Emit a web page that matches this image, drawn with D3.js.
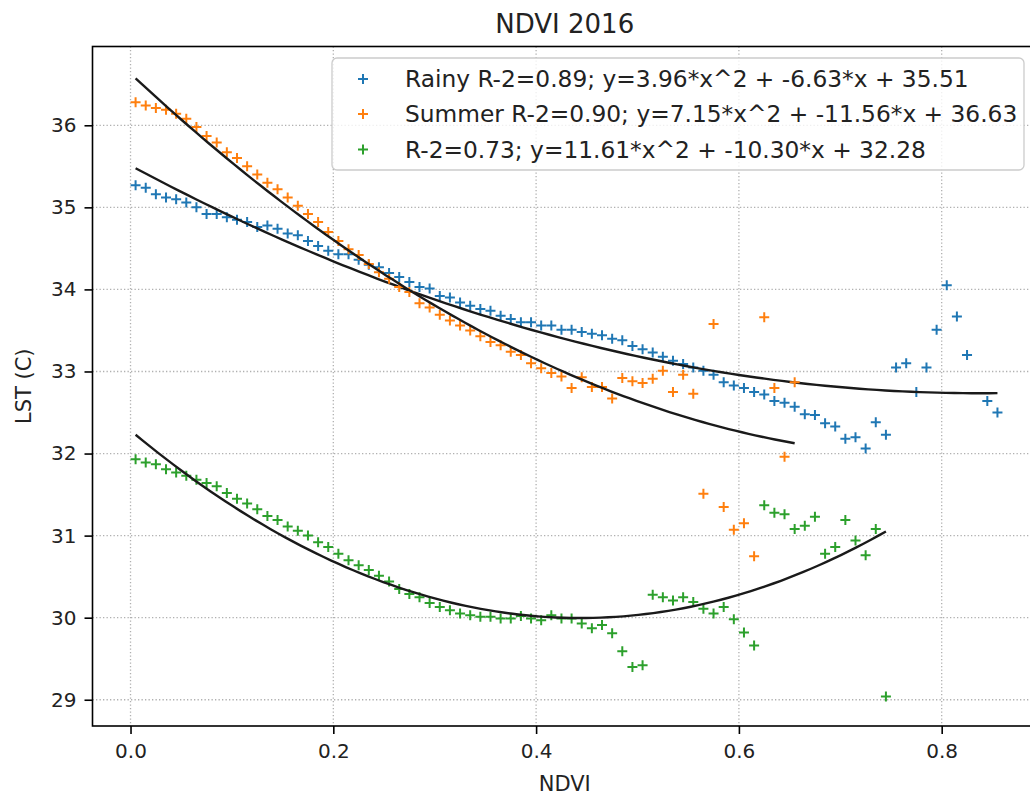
<!DOCTYPE html>
<html>
<head>
<meta charset="utf-8">
<script src="https://cdn.jsdelivr.net/npm/d3@7"></script>
<style>
  html, body { margin: 0; padding: 0; background: #fff; }
  svg { display: block; font-family: "DejaVu Sans", sans-serif; }
</style>
</head>
<body>
<svg id="chart" width="1030" height="797"></svg>
<script>
// NDVI bin centres (shared x positions)
const ndviBins = [
  0.005,0.015,0.025,0.035,0.045,0.055,0.065,0.075,0.085,0.095,
  0.105,0.115,0.125,0.135,0.145,0.155,0.165,0.175,0.185,0.195,
  0.205,0.215,0.225,0.235,0.245,0.255,0.265,0.275,0.285,0.295,
  0.305,0.315,0.325,0.335,0.345,0.355,0.365,0.375,0.385,0.395,
  0.405,0.415,0.425,0.435,0.445,0.455,0.465,0.475,0.485,0.495,
  0.505,0.515,0.525,0.535,0.545,0.555,0.565,0.575,0.585,0.595,
  0.605,0.615,0.625,0.635,0.645,0.655,0.665,0.675,0.685,0.695,
  0.705,0.715,0.725,0.735,0.745,0.755,0.765,0.775,0.785,0.795,
  0.805,0.815,0.825,0.835,0.845,0.855
];

const rainyLst = [
  35.27,35.24,35.16,35.12,35.10,35.06,35.00,34.92,34.92,34.88,
  34.85,34.82,34.76,34.78,34.74,34.68,34.66,34.59,34.53,34.47,
  34.43,34.43,34.36,34.30,34.27,34.20,34.15,34.09,34.03,34.01,
  33.92,33.90,33.84,33.80,33.76,33.74,33.68,33.64,33.60,33.60,
  33.56,33.56,33.51,33.51,33.48,33.46,33.44,33.40,33.38,33.31,
  33.27,33.23,33.18,33.13,33.09,33.05,33.01,32.96,32.87,32.83,
  32.80,32.75,32.72,32.64,32.62,32.57,32.48,32.47,32.37,32.33,
  32.18,32.20,32.06,32.38,32.23,33.05,33.10,32.75,33.05,33.51,
  34.05,33.67,33.20,null,32.64,32.50
];

const summerLst = [
  36.28,36.24,36.21,36.19,36.14,36.08,35.98,35.87,35.79,35.67,
  35.60,35.50,35.40,35.30,35.22,35.12,35.02,34.92,34.82,34.70,
  34.59,34.49,34.42,34.31,34.21,34.13,34.03,33.97,33.83,33.78,
  33.69,33.62,33.56,33.50,33.43,33.36,33.32,33.24,33.20,33.10,
  33.04,32.98,32.94,32.80,32.93,32.81,32.81,32.67,32.92,32.88,
  32.86,32.91,33.01,32.75,32.96,32.73,31.51,33.58,31.35,31.07,
  31.15,30.75,33.66,32.80,31.96,32.87
];

const thirdLst = [
  31.93,31.89,31.87,31.81,31.77,31.73,31.68,31.64,31.60,31.52,
  31.45,31.39,31.32,31.24,31.19,31.11,31.06,31.00,30.92,30.86,
  30.78,30.70,30.64,30.58,30.51,30.44,30.35,30.29,30.25,30.18,
  30.13,30.09,30.05,30.03,30.01,30.01,29.99,29.99,30.02,29.99,
  29.97,30.03,29.99,29.99,29.93,29.87,29.91,29.81,29.59,29.40,
  29.42,30.28,30.25,30.21,30.25,30.19,30.11,30.05,30.13,29.98,
  29.82,29.66,31.37,31.28,31.26,31.08,31.12,31.23,30.78,30.86,
  31.19,30.94,30.76,31.08,29.04
];

// quadratic fit coefficients [a, b, c] : y = a*x^2 + b*x + c
const fitCoefs = [[3.96, -6.63, 35.51], [7.15, -11.56, 36.63], [11.61, -10.30, 32.28]];
const seriesLabels = [
  "Rainy R-2=0.89; y=3.96*x^2 + -6.63*x + 35.51",
  "Summer R-2=0.90; y=7.15*x^2 + -11.56*x + 36.63",
  "R-2=0.73; y=11.61*x^2 + -10.30*x + 32.28"
];
const seriesColors = ["#1f77b4", "#ff7f0e", "#2ca02c"];
const xTicks = [0.0, 0.2, 0.4, 0.6, 0.8];
const yTicks = [29, 30, 31, 32, 33, 34, 35, 36];

const svg = d3.select("#chart");
const L = 92.5, R = 1037, T = 46.5, B = 726;

const x = d3.scaleLinear().domain([-0.0375, 0.894]).range([L, R]);
const y = d3.scaleLinear().domain([28.68, 36.96]).range([B, T]);

// grid
const grid = svg.append("g");
grid.selectAll("line.gx").data(xTicks).join("line")
  .attr("x1", d => x(d)).attr("x2", d => x(d)).attr("y1", T).attr("y2", B)
  .attr("stroke", "#b0b0b0").attr("stroke-width", 1.3).attr("stroke-dasharray", "1.3,2.2");
grid.selectAll("line.gy").data(yTicks).join("line")
  .attr("y1", d => y(d)).attr("y2", d => y(d)).attr("x1", L).attr("x2", R)
  .attr("stroke", "#b0b0b0").attr("stroke-width", 1.3).attr("stroke-dasharray", "1.3,2.2");

const seriesData = [rainyLst, summerLst, thirdLst].map(arr =>
  arr.map((v, i) => ({ x: ndviBins[i], y: v })).filter(d => d.y !== null));

const plus = (sel, color, s) => {
  sel.append("path")
    .attr("d", `M${-s},0H${s}M0,${-s}V${s}`)
    .attr("stroke", color).attr("stroke-width", 2).attr("fill", "none");
};

const line = d3.line().x(d => x(d.x)).y(d => y(d.y));

seriesData.forEach((data, k) => {
  const g = svg.append("g");
  g.selectAll("g").data(data).join("g")
    .attr("transform", d => `translate(${x(d.x)},${y(d.y)})`)
    .each(function () { plus(d3.select(this), seriesColors[k], 5); });
  const [a, b, c] = fitCoefs[k];
  const xmin = d3.min(data, d => d.x), xmax = d3.max(data, d => d.x);
  const pts = d3.range(0, 101).map(j => {
    const xv = xmin + (xmax - xmin) * j / 100;
    return { x: xv, y: a * xv * xv + b * xv + c };
  });
  svg.append("path").datum(pts).attr("d", line)
    .attr("fill", "none").attr("stroke", "#1a1a1a").attr("stroke-width", 2.4);
});

// spines
svg.append("rect").attr("x", L).attr("y", T).attr("width", R - L).attr("height", B - T)
  .attr("fill", "none").attr("stroke", "#000").attr("stroke-width", 1.6);

// axes
const xAxis = svg.append("g").attr("transform", `translate(0,${B})`)
  .call(d3.axisBottom(x).tickValues(xTicks).tickFormat(d3.format(".1f")).tickSize(8).tickPadding(10));
const yAxis = svg.append("g").attr("transform", `translate(${L},0)`)
  .call(d3.axisLeft(y).tickValues(yTicks).tickFormat(d3.format("d")).tickSize(8).tickPadding(8));
[xAxis, yAxis].forEach(a => {
  a.select(".domain").remove();
  a.selectAll(".tick line").attr("stroke", "#000").attr("stroke-width", 1.6);
  a.selectAll(".tick text").attr("fill", "#222").style("font-size", "20px")
    .style("font-family", "DejaVu Sans");
});

// labels
svg.append("text").attr("x", (L + R) / 2).attr("y", 33).attr("text-anchor", "middle")
  .style("font-size", "26px").attr("fill", "#222").text("NDVI 2016");
svg.append("text").attr("x", (L + R) / 2).attr("y", 791).attr("text-anchor", "middle")
  .style("font-size", "21px").attr("fill", "#222").text("NDVI");
svg.append("text").attr("transform", `translate(31,${(T + B) / 2}) rotate(-90)`)
  .attr("text-anchor", "middle").style("font-size", "21px").attr("fill", "#222").text("LST (C)");

// legend
const lg = svg.append("g");
lg.append("rect").attr("x", 332).attr("y", 58).attr("width", 692).attr("height", 112)
  .attr("rx", 5).attr("fill", "#fff").attr("fill-opacity", 0.8)
  .attr("stroke", "#ccc").attr("stroke-width", 1.3);
const rowY = [79, 114, 149.5];
seriesLabels.forEach((lab, k) => {
  const r = lg.append("g").attr("transform", `translate(363,${rowY[k]})`);
  plus(r, seriesColors[k], 5);
  lg.append("text").attr("x", 405).attr("y", rowY[k] + 8.3)
    .style("font-size", "23.3px").attr("fill", "#222").text(lab);
});
</script>
</body>
</html>
